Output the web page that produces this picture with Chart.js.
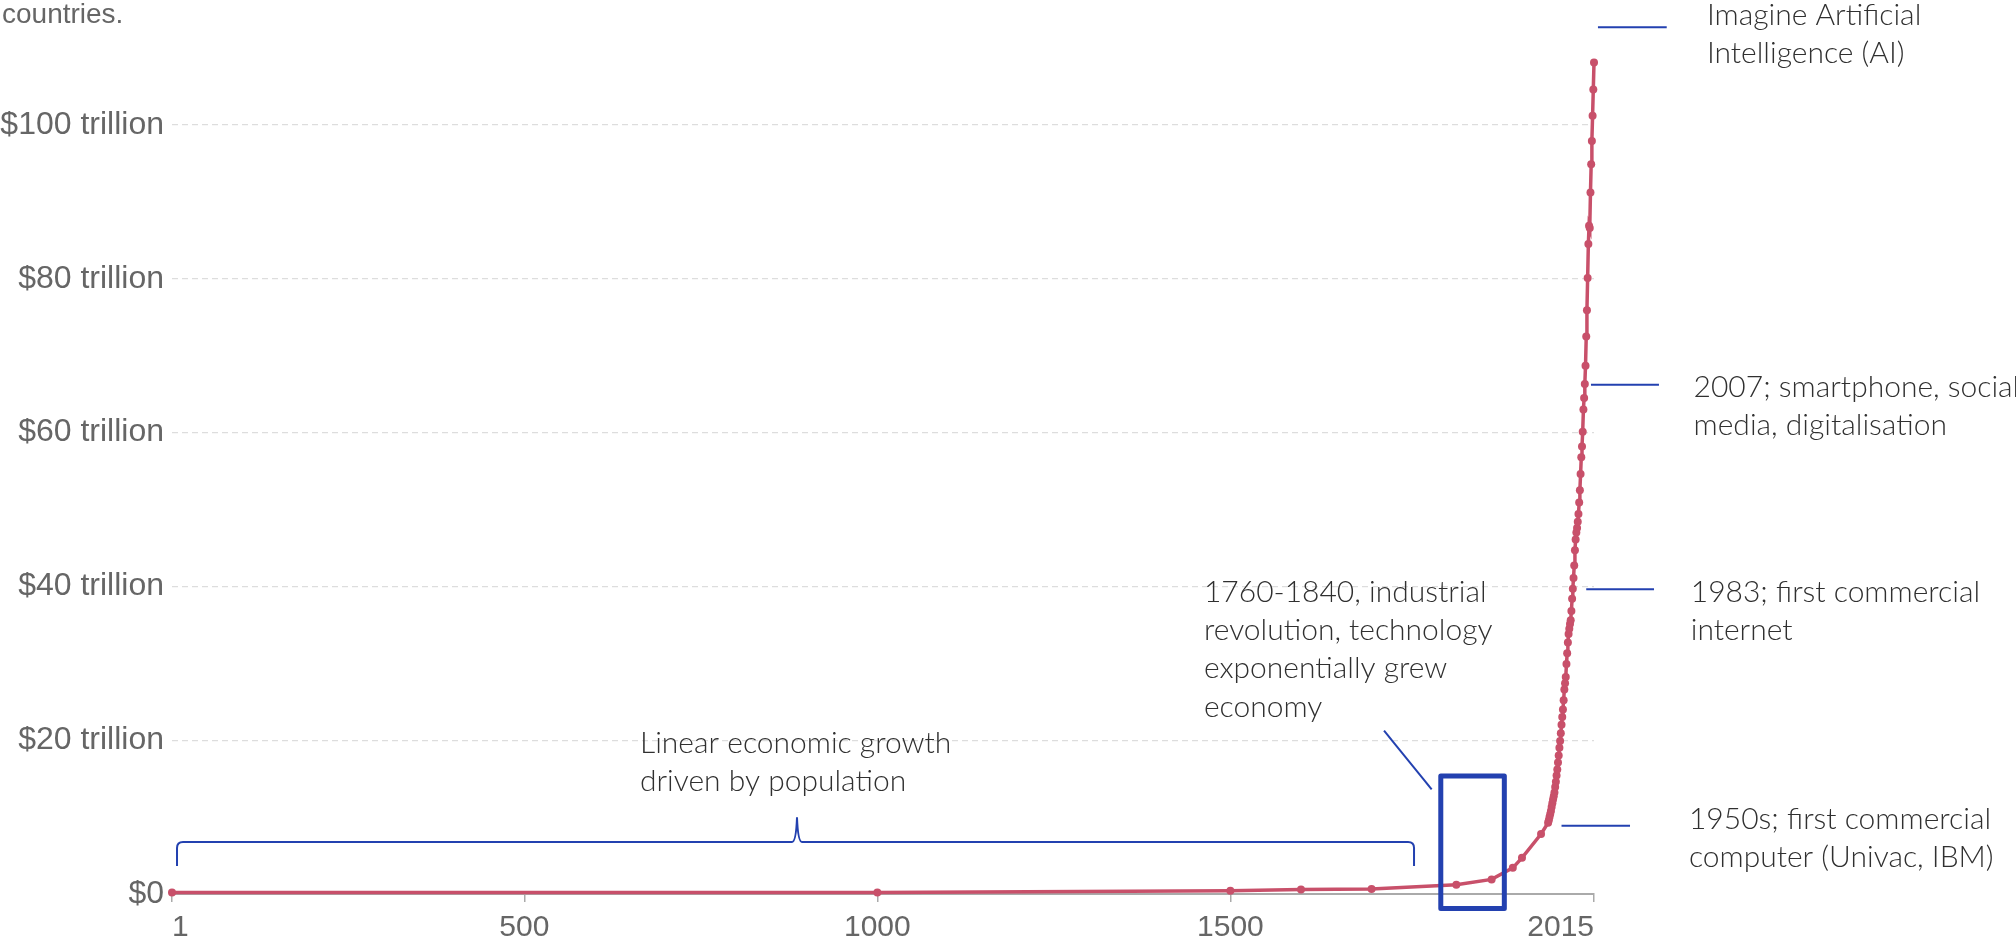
<!DOCTYPE html>
<html>
<head>
<meta charset="utf-8">
<script src="https://cdn.jsdelivr.net/npm/chart.js@4/dist/chart.umd.min.js"></script>
<style>
  html, body { margin: 0; padding: 0; background: #ffffff; }
  #wrap { position: relative; width: 2016px; height: 944px; overflow: hidden; }
  canvas { display: block; }
</style>
</head>
<body>
<div id="wrap"><canvas id="c" width="2016" height="944"></canvas></div>
<script>
// ---- Data (world GDP, trillions of international $) ----
const years = [1, 1000, 1500, 1600, 1700, 1820, 1870, 1900, 1913, 1940,
  1950, 1951, 1952, 1953, 1954, 1955, 1956, 1957, 1958, 1959,
  1960, 1961, 1962, 1963, 1964, 1965, 1966, 1967, 1968, 1969,
  1970, 1971, 1972, 1973, 1974, 1975, 1976, 1977, 1978, 1979,
  1980, 1981, 1982, 1983, 1984, 1985, 1986, 1987, 1988, 1989,
  1990, 1991, 1992, 1993, 1994, 1995, 1996, 1997, 1998, 1999,
  2000, 2001, 2002, 2003, 2004, 2005, 2006, 2007, 2008, 2009,
  2010, 2011, 2012, 2013, 2014, 2015];
const gdpTrillions = [0.18, 0.21, 0.43, 0.60, 0.64, 1.20, 1.90, 3.40, 4.70, 7.80,
  9.25, 9.6, 10.0, 10.4, 10.8, 11.3, 11.8, 12.3, 12.7, 13.2,
  13.9, 14.6, 15.4, 16.2, 17.1, 18.0, 19.0, 19.9, 20.9, 22.0,
  23.0, 24.0, 25.2, 26.6, 27.4, 28.2, 29.9, 31.3, 32.7, 33.8,
  34.5, 35.1, 35.6, 36.8, 38.4, 39.7, 41.1, 42.7, 44.7, 46.1,
  47.0, 47.6, 48.4, 49.4, 50.9, 52.5, 54.6, 56.8, 58.2, 60.1,
  63.0, 64.5, 66.3, 68.7, 72.5, 75.9, 80.1, 84.5, 86.9, 86.6,
  91.2, 94.9, 97.9, 101.2, 104.6, 108.1];
const xTickValues = [1, 500, 1000, 1500, 2015];
const yTickValues = [0, 20, 40, 60, 80, 100];
const subtitleTail = 'countries.';

// ---- Annotations (anchored in data units) ----
const annotationTexts = [
  { lines: ['Imagine Artificial', 'Intelligence (AI)'], year: 2175, val: 113.0 },
  { lines: ['2007; smartphone, social', 'media, digitalisation'], year: 2156, val: 64.66 },
  { lines: ['1983; first commercial', 'internet'], year: 2152, val: 38.0 },
  { lines: ['1950s; first commercial', 'computer (Univac, IBM)'], year: 2149.5, val: 8.45 },
  { lines: ['1760-1840, industrial', 'revolution, technology', 'exponentially grew', 'economy'], year: 1462.6, val: 38.0 },
  { lines: ['Linear economic growth', 'driven by population'], year: 663.8, val: 18.33 }
];
const leaderLines = [
  { y0: 2020.6, v0: 112.69, y1: 2118, v1: 112.69 },
  { y0: 2010.7, v0: 66.22, y1: 2107, v1: 66.22 },
  { y0: 2004, v0: 39.62, y1: 2100, v1: 39.62 },
  { y0: 1969, v0: 8.88, y1: 2066, v1: 8.88 },
  { y0: 1717.6, v0: 21.23, y1: 1785.1, v1: 13.61 }
];
const highlightBox = { y0: 1798, y1: 1888, vTop: 15.35, vBottom: -1.89 };
const brace = { y0: 8.1, y1: 1760.1, yMid: 886.2, vLine: 6.76, vEnd: 3.64, vPeak: 9.88 };

const lineColor = '#c8506a';
const blue = '#2341b0';

const annotationPlugin = {
  id: 'annots',
  afterDraw(chart) {
    const ctx = chart.ctx;
    const xs = chart.scales.x, ys = chart.scales.y;
    const px = v => xs.getPixelForValue(v);
    const py = v => ys.getPixelForValue(v);
    ctx.save();
    // subtitle tail
    ctx.fillStyle = '#666666';
    ctx.font = '28px "Liberation Sans", Arial, sans-serif';
    ctx.textBaseline = 'alphabetic';
    ctx.textAlign = 'left';
    ctx.fillText(subtitleTail, 2, 23);

    // leader lines
    ctx.strokeStyle = blue;
    ctx.lineWidth = 2;
    leaderLines.forEach(l => {
      ctx.beginPath();
      ctx.moveTo(px(l.y0), py(l.v0));
      ctx.lineTo(px(l.y1), py(l.v1));
      ctx.stroke();
    });
    // highlight box
    ctx.lineWidth = 5;
    ctx.lineJoin = 'round';
    const bx0 = px(highlightBox.y0), bx1 = px(highlightBox.y1);
    const by0 = py(highlightBox.vTop), by1 = py(highlightBox.vBottom);
    ctx.strokeRect(bx0, by0, bx1 - bx0, by1 - by0);

    // brace
    ctx.lineWidth = 2;
    const x0 = px(brace.y0), x1 = px(brace.y1), xm = px(brace.yMid);
    const yl = py(brace.vLine), ye = py(brace.vEnd), yp = py(brace.vPeak);
    const r = 6;
    ctx.beginPath();
    ctx.moveTo(x0, ye);
    ctx.lineTo(x0, yl + r);
    ctx.quadraticCurveTo(x0, yl, x0 + r, yl);
    ctx.lineTo(xm - 5, yl);
    ctx.quadraticCurveTo(xm - 1, yl, xm, yp);
    ctx.quadraticCurveTo(xm + 1, yl, xm + 5, yl);
    ctx.lineTo(x1 - r, yl);
    ctx.quadraticCurveTo(x1, yl, x1, yl + r);
    ctx.lineTo(x1, ye);
    ctx.stroke();

    // texts
    ctx.fillStyle = '#303030';
    ctx.font = '300 30px Lato, "Open Sans", sans-serif';
    ctx.textAlign = 'left';
    ctx.textBaseline = 'alphabetic';
    annotationTexts.forEach(a => {
      const tx = px(a.year), ty = py(a.val);
      a.lines.forEach((ln, i) => ctx.fillText(ln, tx, ty + i * 38.3));
    });
    ctx.restore();
  }
};

const points = years.map((yr, i) => ({ x: yr, y: gdpTrillions[i] }));

new Chart(document.getElementById('c'), {
  type: 'line',
  data: {
    datasets: [{
      data: points,
      borderColor: lineColor,
      backgroundColor: lineColor,
      borderWidth: 3.5,
      pointRadius: 4,
      pointBackgroundColor: lineColor,
      pointBorderColor: lineColor,
      pointBorderWidth: 0,
      tension: 0,
      fill: false,
      clip: false
    }]
  },
  options: {
    responsive: false,
    animation: false,
    devicePixelRatio: 1,
    layout: { padding: { top: 48, right: 422, left: 0, bottom: 0 } },
    plugins: { legend: { display: false }, tooltip: { enabled: false }, title: { display: false } },
    scales: {
      x: {
        type: 'linear',
        min: 1, max: 2015,
        afterBuildTicks: s => { s.ticks = xTickValues.map(v => ({ value: v })); },
        afterFit: s => { s.height = 50; },
        ticks: {
          align: 'inner',
          maxRotation: 0,
          autoSkip: false,
          padding: 8,
          color: '#666666',
          font: { family: '"Liberation Sans", Arial, sans-serif', size: 30 },
          callback: v => String(v)
        },
        grid: { drawOnChartArea: false, drawTicks: true, tickLength: 8, color: '#aaaaaa', lineWidth: 1.5 },
        border: { display: true, color: '#aaaaaa', width: 2 }
      },
      y: {
        min: 0, max: 110,
        afterBuildTicks: s => { s.ticks = yTickValues.map(v => ({ value: v })); },
        afterFit: s => { s.width = 172; },
        ticks: {
          padding: 8,
          color: '#666666',
          font: { family: '"Liberation Sans", Arial, sans-serif', size: 32 },
          callback: v => v === 0 ? '$0' : '$' + v + ' trillion'
        },
        grid: { color: '#dddddd', lineWidth: 1.2, drawTicks: false },
        border: { display: false, dash: [6, 4] }
      }
    }
  },
  plugins: [annotationPlugin]
});
</script>
</body>
</html>
